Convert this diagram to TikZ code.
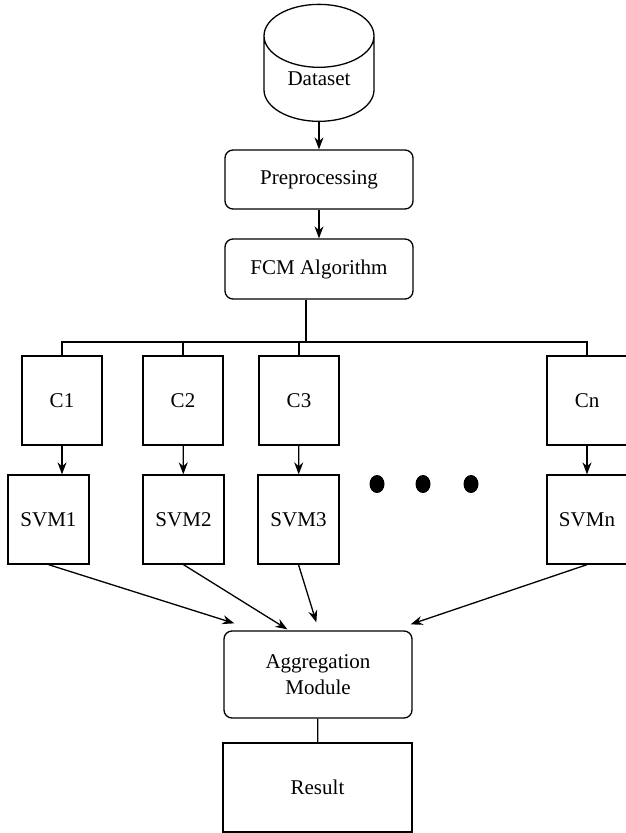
\documentclass[tikz,border=0pt]{standalone}
\usepackage{fontspec}
\setmainfont{Liberation Serif}
\usetikzlibrary{shapes.geometric,arrows.meta,positioning,calc}

\begin{document}
\begin{tikzpicture}[x=1pt, y=-1pt, line width=1.3pt, >={Stealth[length=12pt,width=9pt]},
    every node/.style={draw, align=center, font=\fontsize{21}{26}\selectfont, inner sep=0pt},
    roundbox/.style={rounded corners=8pt, minimum width=188pt, minimum height=59pt},
    clbox/.style={minimum width=80pt, minimum height=89pt}]
    \useasboundingbox (0,0) rectangle (626,833);
    \node [cylinder, shape border rotate=90, aspect=1.0, anchor=south, minimum width=110pt, minimum height=117pt] (data) at (319,122) {Dataset};
    \node [roundbox] (pre) at (319,179.5) {Preprocessing};
    \node [roundbox, minimum height=60pt] (fcm) at (319,269) {FCM Algorithm};
    \coordinate (bus) at (306,342);
    % clusters
    \node [clbox] (c1) at (62,400.5) {C1};
    \node [clbox] (c2) at (183,400.5) {C2};
    \node [clbox] (c3) at (299,400.5) {C3};
    \node [clbox] (cn) at (587,400.5) {Cn};
    % classifiers
    \node [clbox, minimum width=81pt] (svm1) at (48.5,519.5) {SVM1};
    \node [clbox, minimum width=81pt] (svm2) at (183.5,519.5) {SVM2};
    \node [clbox, minimum width=81pt] (svm3) at (298.5,519.5) {SVM3};
    \node [clbox] (svmn) at (587,519.5) {SVMn};
    \foreach \x in {377,423,471}
        \fill (\x,484) ellipse [x radius=7.5, y radius=9];
    \node [rounded corners=8pt, minimum width=188pt, minimum height=87pt] (agg) at (318,674.5) {Aggregation\\Module};
    \node [minimum width=189pt, minimum height=89pt] (res) at (317.5,787.5) {Result};

    \draw [->] (data) -- (pre);
    \draw [->] (pre) -- (fcm);
    \draw (fcm.south -| bus) -- (bus);
    \draw (c1.north) |- (bus -| cn) -- (cn.north);
    \draw (c2.north) -- (c2.north |- bus);
    \draw (c3.north) -- (c3.north |- bus);
    \draw [->] (c1.south) -- (c1.south |- svm1.north);
    \draw [->] (c2) -- (svm2);
    \draw [->] (c3) -- (svm3);
    \draw [->] (cn) -- (svmn);
    \draw [->] (svm1.south) -- ([shift={(11,-7)}]agg.north west);
    \draw [->] (svm2.south) -- ([shift={(64,-1)}]agg.north west);
    \draw [->] (svm3.south) -- ([shift={(93,-8)}]agg.north west);
    \draw [->] (svmn.south) -- ([shift={(-2,-6)}]agg.north east);
    \draw (agg) -- (res);
\end{tikzpicture}
\end{document}
